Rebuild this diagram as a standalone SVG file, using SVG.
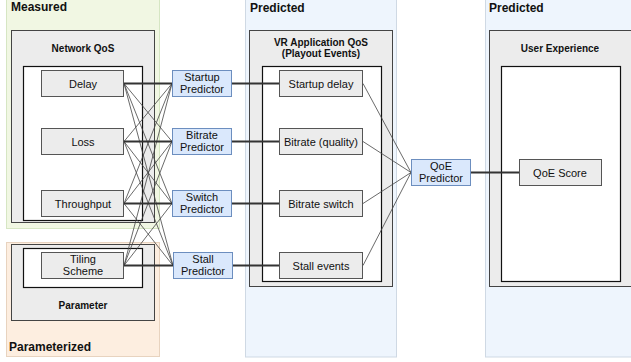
<svg xmlns="http://www.w3.org/2000/svg" width="631" height="362" viewBox="0 0 631 362">
<style>
text{font-family:"Liberation Sans",Arial,sans-serif;fill:#111;}
.lbl{font-size:11px;text-anchor:middle;}
.ttl{font-size:10px;font-weight:bold;text-anchor:middle;}
.zone{font-size:12px;font-weight:bold;}
.grp{fill:#ececec;stroke:#444;stroke-width:1;}
.inner{fill:#fff;stroke:#111;stroke-width:1.2;}
.node{fill:#ececec;stroke:#555;stroke-width:1;}
.pred{fill:#dae8fc;stroke:#6c8ebf;stroke-width:1;}
.thin{stroke:#444;stroke-width:0.8;fill:none;}
.thick{stroke:#333;stroke-width:2;fill:none;}
</style>
<rect width="631" height="362" fill="#fff"/>
<g id="zone-measured">
<rect x="6.5" y="-2" width="153" height="230.5" fill="#f1f7e3" stroke="#d6e6c3"/>
<text class="zone" x="11" y="11">Measured</text>
</g>
<g id="zone-parameterized">
<rect x="6.5" y="242.5" width="153" height="114" fill="#fdeee0" stroke="#e8d3bf"/>
<text class="zone" x="9" y="351">Parameterized</text>
</g>
<g id="zone-predicted-1">
<rect x="245.5" y="-2" width="151" height="359" fill="#eef5fd" stroke="#cfd9e4"/>
<text class="zone" x="250" y="12">Predicted</text>
</g>
<g id="zone-predicted-2">
<rect x="485.5" y="-2" width="150" height="359" fill="#eef5fd" stroke="#cfd9e4"/>
<text class="zone" x="489" y="12">Predicted</text>
</g>
<g id="network-qos">
<rect class="grp" x="11.5" y="30.5" width="143" height="192"/>
<text class="ttl" x="83" y="52">Network QoS</text>
<rect class="inner" x="23.5" y="66.5" width="119" height="154"/>
</g>
<g id="parameter">
<rect class="grp" x="11.5" y="244.5" width="143" height="76"/>
<rect class="inner" x="23.5" y="248.5" width="119" height="39"/>
<text class="ttl" x="83" y="309">Parameter</text>
</g>
<g id="vr-app-qos">
<rect class="grp" x="249.5" y="30.5" width="143" height="256"/>
<text class="ttl" x="321" y="46">VR Application QoS</text>
<text class="ttl" x="321" y="57">(Playout Events)</text>
<rect class="inner" x="262.5" y="66.5" width="119" height="215"/>
</g>
<g id="user-experience">
<rect class="grp" x="489.5" y="30.5" width="145" height="256"/>
<text class="ttl" x="560" y="52">User Experience</text>
<rect class="inner" x="501.5" y="66.5" width="119" height="215"/>
</g>
<g id="connectors">
<g class="thin">
<path d="M124 83.5L172 141.5M124 83.5L172 203.5M124 83.5L173 265.5"/>
<path d="M124 141.5L172 83.5M124 141.5L172 203.5M124 141.5L173 265.5"/>
<path d="M124 203.5L172 83.5M124 203.5L172 141.5M124 203.5L173 265.5"/>
<path d="M124 265.5L172 83.5M124 265.5L172 141.5M124 265.5L172 203.5"/>
<path d="M363 83.5L411 172.5M363 141.5L411 172.5M363 203.5L411 172.5M363 265.5L411 172.5"/>
</g>
<g class="thick">
<path d="M124 83.5H172M124 141.5H172M124 203.5H172M124 265.5H173"/>
<path d="M232 83.5H279M232 141.5H279M232 203.5H279M233 265.5H279"/>
<path d="M471 172.5H519"/>
</g>
</g>
<g id="delay"><rect class="node" x="41.5" y="70.5" width="82" height="26"/><text class="lbl" x="83" y="87.5">Delay</text></g>
<g id="loss"><rect class="node" x="41.5" y="128.5" width="82" height="26"/><text class="lbl" x="83" y="145.5">Loss</text></g>
<g id="throughput"><rect class="node" x="41.5" y="190.5" width="82" height="26"/><text class="lbl" x="83" y="207.5">Throughput</text></g>
<g id="tiling-scheme"><rect class="node" x="41.5" y="252.5" width="82" height="26"/><text class="lbl" x="83" y="263">Tiling</text><text class="lbl" x="83" y="275">Scheme</text></g>
<g id="startup-predictor"><rect class="pred" x="172.5" y="70.5" width="59" height="26"/><text class="lbl" x="202" y="81">Startup</text><text class="lbl" x="202" y="93">Predictor</text></g>
<g id="bitrate-predictor"><rect class="pred" x="172.5" y="128.5" width="59" height="26"/><text class="lbl" x="202" y="139">Bitrate</text><text class="lbl" x="202" y="151">Predictor</text></g>
<g id="switch-predictor"><rect class="pred" x="172.5" y="190.5" width="59" height="26"/><text class="lbl" x="202" y="201">Switch</text><text class="lbl" x="202" y="213">Predictor</text></g>
<g id="stall-predictor"><rect class="pred" x="173.5" y="252.5" width="59" height="26"/><text class="lbl" x="203" y="263">Stall</text><text class="lbl" x="203" y="275">Predictor</text></g>
<g id="startup-delay"><rect class="node" x="279.5" y="70.5" width="83" height="26"/><text class="lbl" x="321" y="87.5">Startup delay</text></g>
<g id="bitrate-quality"><rect class="node" x="279.5" y="128.5" width="83" height="26"/><text class="lbl" x="321" y="145.5">Bitrate (quality)</text></g>
<g id="bitrate-switch"><rect class="node" x="279.5" y="190.5" width="83" height="26"/><text class="lbl" x="321" y="207.5">Bitrate switch</text></g>
<g id="stall-events"><rect class="node" x="279.5" y="252.5" width="83" height="26"/><text class="lbl" x="321" y="269.5">Stall events</text></g>
<g id="qoe-predictor"><rect class="pred" x="411.5" y="159.5" width="59" height="26"/><text class="lbl" x="441" y="170">QoE</text><text class="lbl" x="441" y="182">Predictor</text></g>
<g id="qoe-score"><rect class="node" x="519.5" y="159.5" width="82" height="26"/><text class="lbl" x="560" y="176.5">QoE Score</text></g>
</svg>
